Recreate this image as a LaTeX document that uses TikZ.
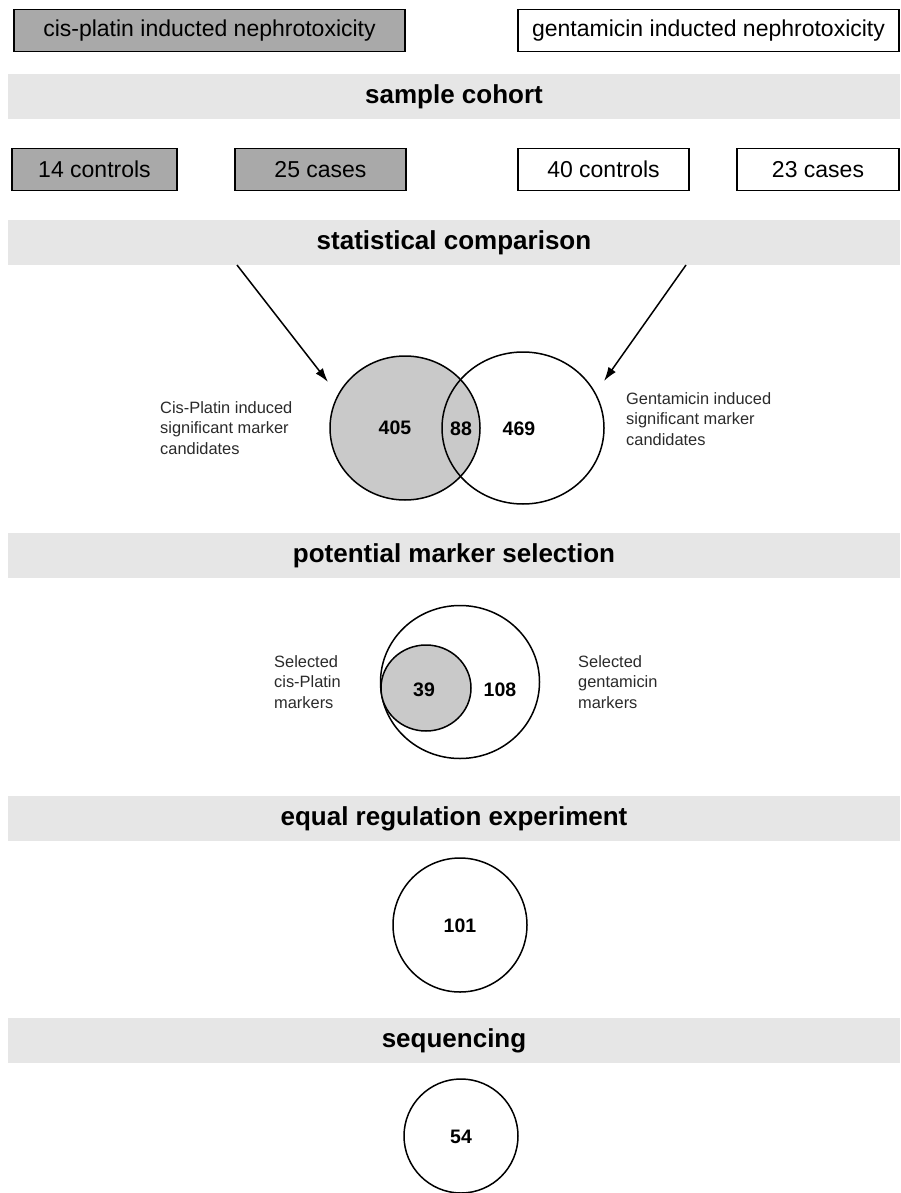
\documentclass[tikz,border=0pt]{standalone}
\usepackage{fontspec}
\setmainfont{Liberation Sans}
\usepackage{xcolor}
\usetikzlibrary{arrows.meta}
\definecolor{bandgray}{HTML}{E6E6E6}
\definecolor{boxgray}{HTML}{A9A9A9}
\definecolor{setgray}{HTML}{C9C9C9}
\definecolor{labtext}{HTML}{2A2A2A}
\tikzset{
  grp/.style={draw=black, line width=1.6pt, minimum height=42pt, inner sep=0pt, font=\fontsize{23}{27}\selectfont},
  cis/.style={grp, fill=boxgray},
  gen/.style={grp, fill=white},
  band/.style={fill=bandgray, minimum width=892pt, minimum height=45pt, inner sep=0pt, font=\fontsize{26}{30}\selectfont\bfseries},
  ring/.style={draw=black, line width=1.5pt},
  num/.style={inner sep=0pt, font=\fontsize{19.5}{22}\selectfont\bfseries},
  lab/.style={align=left, anchor=west, inner sep=0pt, text=labtext, font=\fontsize{16.4}{20.3}\selectfont},
  arr/.style={draw=black, line width=1.5pt, -{Latex[length=14pt,width=9pt]}},
}

\begin{document}
\begin{tikzpicture}[x=1pt,y=-1pt]
  \useasboundingbox (0,0) rectangle (900,1193);
  % groups and cohort
  \node[cis, minimum width=391pt] (cisgrp) at (209.5,30.5) {cis-platin inducted nephrotoxicity};
  \node[gen, minimum width=381pt] (gengrp) at (708.5,30.5) {gentamicin inducted nephrotoxicity};
  \node[band] (cohort) at (454,97) {sample cohort};
  \node[cis, minimum width=165pt] (ciscon) at (94.5,169.5) {14 controls};
  \node[cis, minimum width=171pt] (ciscas) at (320.5,169.5) {25 cases};
  \node[gen, minimum width=171pt] (gencon) at (603.5,169.5) {40 controls};
  \node[gen, minimum width=162pt] (gencas) at (818,169.5) {23 cases};
  \node[band] (stat) at (454,242.5) {statistical comparison};
  % first venn
  \coordinate (cisfrom) at (237,265);
  \coordinate (cisto) at (328,382);
  \coordinate (genfrom) at (686,265);
  \coordinate (gento) at (604,381);
  \fill[setgray] (405,428) ellipse [x radius=75pt, y radius=72pt];
  \draw[ring] (405,428) ellipse [x radius=75pt, y radius=72pt];
  \draw[ring] (523,428) ellipse [x radius=81pt, y radius=76pt];
  \draw[arr] (cisfrom) -- (cisto);
  \draw[arr] (genfrom) -- (gento);
  \node[num] (cisonly) at (395,428) {405};
  \node[num] (both) at (461,429) {88};
  \node[num] (genonly) at (519,429) {469};
  \node[lab] (cislab) at (160,428) {Cis-Platin induced\\significant marker\\candidates};
  \node[lab] (genlab) at (626,419) {Gentamicin induced\\significant marker\\candidates};
  \node[band] (select) at (454,555.5) {potential marker selection};
  % second venn
  \draw[ring] (460,682) ellipse [x radius=79.5pt, y radius=76.5pt];
  \fill[setgray] (426,688) ellipse [x radius=45pt, y radius=43pt];
  \draw[ring] (426,688) ellipse [x radius=45pt, y radius=43pt];
  \node[num] (selcis) at (424,690) {39};
  \node[num] (selgen) at (500,690) {108};
  \node[lab] (selcislab) at (274,682) {Selected\\cis-Platin\\markers};
  \node[lab] (selgenlab) at (578,682) {Selected\\gentamicin\\markers};
  \node[band] (equal) at (454,818.5) {equal regulation experiment};
  \draw[ring] (460,925) circle [radius=67pt];
  \node[num] (eqnum) at (460,926) {101};
  \node[band] (seq) at (454,1040.5) {sequencing};
  \draw[ring] (461,1136) circle [radius=57pt];
  \node[num] (seqnum) at (461,1137) {54};
\end{tikzpicture}
\end{document}
